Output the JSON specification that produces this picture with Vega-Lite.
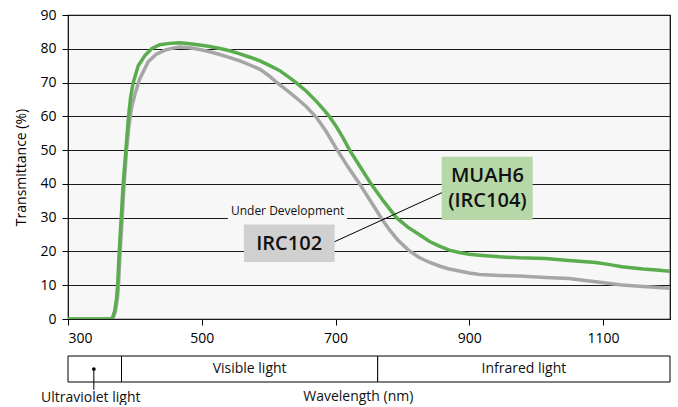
{
  "$schema": "https://vega.github.io/schema/vega-lite/v6.json",
  "background": "white",
  "padding": {"left": 14, "top": 7, "right": 6, "bottom": 0},
  "bounds": "flush",
  "spacing": 37,
  "config": {
    "font": "Open Sans",
    "view": {"stroke": null},
    "axis": {
      "labelFont": "Open Sans", "titleFont": "Open Sans",
      "labelFontSize": 14, "titleFontSize": 14, "titleFontWeight": "normal",
      "labelColor": "black", "titleColor": "black",
      "tickColor": "black", "domainColor": "black", "tickSize": 6, "labelOverlap": false
    }
  },
  "datasets": {
    "curves": [
      {"wl": 300, "t": 0, "s": "IRC102"}, {"wl": 340, "t": 0, "s": "IRC102"}, {"wl": 365, "t": 0, "s": "IRC102"},
      {"wl": 368, "t": 0.6, "s": "IRC102"}, {"wl": 371, "t": 2.5, "s": "IRC102"}, {"wl": 373.8, "t": 6, "s": "IRC102"},
      {"wl": 375.5, "t": 10, "s": "IRC102"}, {"wl": 378, "t": 20, "s": "IRC102"}, {"wl": 381, "t": 30, "s": "IRC102"},
      {"wl": 384, "t": 40, "s": "IRC102"}, {"wl": 387.5, "t": 50, "s": "IRC102"}, {"wl": 391, "t": 57, "s": "IRC102"},
      {"wl": 395, "t": 62.5, "s": "IRC102"}, {"wl": 400, "t": 66.5, "s": "IRC102"}, {"wl": 407, "t": 71, "s": "IRC102"},
      {"wl": 420, "t": 76.2, "s": "IRC102"}, {"wl": 432, "t": 78.4, "s": "IRC102"}, {"wl": 445, "t": 79.6, "s": "IRC102"},
      {"wl": 457, "t": 80.2, "s": "IRC102"}, {"wl": 467, "t": 80.5, "s": "IRC102"}, {"wl": 482, "t": 80.3, "s": "IRC102"},
      {"wl": 497, "t": 79.8, "s": "IRC102"}, {"wl": 512, "t": 79.1, "s": "IRC102"}, {"wl": 527, "t": 78.3, "s": "IRC102"},
      {"wl": 542, "t": 77.4, "s": "IRC102"}, {"wl": 557, "t": 76.4, "s": "IRC102"}, {"wl": 572, "t": 75.2, "s": "IRC102"},
      {"wl": 587, "t": 73.9, "s": "IRC102"}, {"wl": 600, "t": 72.1, "s": "IRC102"}, {"wl": 611, "t": 70.2, "s": "IRC102"},
      {"wl": 626, "t": 67.9, "s": "IRC102"}, {"wl": 641, "t": 65.5, "s": "IRC102"}, {"wl": 656, "t": 62.9, "s": "IRC102"},
      {"wl": 671, "t": 59.8, "s": "IRC102"}, {"wl": 686, "t": 55.5, "s": "IRC102"}, {"wl": 701, "t": 50.5, "s": "IRC102"},
      {"wl": 718, "t": 45.2, "s": "IRC102"}, {"wl": 736, "t": 40, "s": "IRC102"}, {"wl": 752, "t": 35, "s": "IRC102"},
      {"wl": 768, "t": 30, "s": "IRC102"}, {"wl": 781, "t": 26.3, "s": "IRC102"}, {"wl": 793, "t": 23.4, "s": "IRC102"},
      {"wl": 809, "t": 20.4, "s": "IRC102"}, {"wl": 825, "t": 18.2, "s": "IRC102"}, {"wl": 840, "t": 16.8, "s": "IRC102"},
      {"wl": 855, "t": 15.7, "s": "IRC102"}, {"wl": 870, "t": 14.8, "s": "IRC102"}, {"wl": 885, "t": 14.2, "s": "IRC102"},
      {"wl": 900, "t": 13.6, "s": "IRC102"}, {"wl": 915, "t": 13.2, "s": "IRC102"}, {"wl": 945, "t": 12.9, "s": "IRC102"},
      {"wl": 975, "t": 12.7, "s": "IRC102"}, {"wl": 1014, "t": 12.3, "s": "IRC102"}, {"wl": 1049, "t": 12, "s": "IRC102"},
      {"wl": 1070, "t": 11.5, "s": "IRC102"}, {"wl": 1089, "t": 11, "s": "IRC102"}, {"wl": 1110, "t": 10.5, "s": "IRC102"},
      {"wl": 1128, "t": 10.1, "s": "IRC102"}, {"wl": 1160, "t": 9.6, "s": "IRC102"}, {"wl": 1200, "t": 9.1, "s": "IRC102"},

      {"wl": 300, "t": 0, "s": "MUAH6"}, {"wl": 340, "t": 0, "s": "MUAH6"}, {"wl": 364, "t": 0, "s": "MUAH6"},
      {"wl": 367, "t": 0.6, "s": "MUAH6"}, {"wl": 370, "t": 2.5, "s": "MUAH6"}, {"wl": 372.7, "t": 6.3, "s": "MUAH6"},
      {"wl": 374.2, "t": 10, "s": "MUAH6"}, {"wl": 376.6, "t": 20, "s": "MUAH6"}, {"wl": 379.6, "t": 30, "s": "MUAH6"},
      {"wl": 382.5, "t": 40, "s": "MUAH6"}, {"wl": 386.5, "t": 50, "s": "MUAH6"}, {"wl": 390.5, "t": 60, "s": "MUAH6"},
      {"wl": 393.5, "t": 65.5, "s": "MUAH6"}, {"wl": 397.5, "t": 70, "s": "MUAH6"}, {"wl": 405, "t": 75, "s": "MUAH6"},
      {"wl": 415, "t": 78, "s": "MUAH6"}, {"wl": 425, "t": 80, "s": "MUAH6"}, {"wl": 437, "t": 81.2, "s": "MUAH6"},
      {"wl": 452, "t": 81.6, "s": "MUAH6"}, {"wl": 467, "t": 81.8, "s": "MUAH6"}, {"wl": 482, "t": 81.5, "s": "MUAH6"},
      {"wl": 497, "t": 81.1, "s": "MUAH6"}, {"wl": 512, "t": 80.7, "s": "MUAH6"}, {"wl": 527, "t": 80.1, "s": "MUAH6"},
      {"wl": 542, "t": 79.4, "s": "MUAH6"}, {"wl": 557, "t": 78.5, "s": "MUAH6"}, {"wl": 572, "t": 77.5, "s": "MUAH6"},
      {"wl": 587, "t": 76.4, "s": "MUAH6"}, {"wl": 601, "t": 75.1, "s": "MUAH6"}, {"wl": 616, "t": 73.6, "s": "MUAH6"},
      {"wl": 628, "t": 71.9, "s": "MUAH6"}, {"wl": 641, "t": 70, "s": "MUAH6"}, {"wl": 656, "t": 67.5, "s": "MUAH6"},
      {"wl": 671, "t": 64.5, "s": "MUAH6"}, {"wl": 681, "t": 62.3, "s": "MUAH6"}, {"wl": 691, "t": 59.9, "s": "MUAH6"},
      {"wl": 701, "t": 57, "s": "MUAH6"}, {"wl": 711, "t": 53.7, "s": "MUAH6"}, {"wl": 721, "t": 50, "s": "MUAH6"},
      {"wl": 737, "t": 45, "s": "MUAH6"}, {"wl": 753, "t": 40, "s": "MUAH6"}, {"wl": 772, "t": 34.8, "s": "MUAH6"},
      {"wl": 791, "t": 30, "s": "MUAH6"}, {"wl": 808, "t": 27.2, "s": "MUAH6"}, {"wl": 825, "t": 25, "s": "MUAH6"},
      {"wl": 840, "t": 23, "s": "MUAH6"}, {"wl": 855, "t": 21.6, "s": "MUAH6"}, {"wl": 870, "t": 20.4, "s": "MUAH6"},
      {"wl": 885, "t": 19.7, "s": "MUAH6"}, {"wl": 900, "t": 19.2, "s": "MUAH6"}, {"wl": 915, "t": 18.9, "s": "MUAH6"},
      {"wl": 945, "t": 18.4, "s": "MUAH6"}, {"wl": 975, "t": 18.1, "s": "MUAH6"}, {"wl": 1014, "t": 17.9, "s": "MUAH6"},
      {"wl": 1049, "t": 17.3, "s": "MUAH6"}, {"wl": 1089, "t": 16.7, "s": "MUAH6"}, {"wl": 1110, "t": 16.1, "s": "MUAH6"},
      {"wl": 1128, "t": 15.5, "s": "MUAH6"}, {"wl": 1160, "t": 14.8, "s": "MUAH6"}, {"wl": 1180, "t": 14.5, "s": "MUAH6"},
      {"wl": 1200, "t": 14.1, "s": "MUAH6"}
    ],
    "bands": [
      {"region": "Ultraviolet light", "from": 300, "to": 380},
      {"region": "Visible light", "from": 380, "to": 763},
      {"region": "Infrared light", "from": 763, "to": 1200}
    ]
  },
  "vconcat": [
    {
      "width": 602,
      "height": 304,
      "view": {"fill": "#f7f7f7", "stroke": "black", "strokeWidth": 1.2},
      "encoding": {
        "x": {"field": "wl", "type": "quantitative",
              "scale": {"domain": [300, 1200], "nice": false, "zero": false},
              "axis": {"values": [300, 500, 700, 900, 1100], "format": "d", "title": null, "grid": false, "domain": false, "labelPadding": 6}},
        "y": {"field": "t", "type": "quantitative",
              "scale": {"domain": [0, 90], "nice": false},
              "axis": {"values": [0, 10, 20, 30, 40, 50, 60, 70, 80, 90], "tickCount": 10, "title": "Transmittance (%)",
                       "grid": true, "gridColor": "#1a1a1a", "gridWidth": 1, "gridOpacity": 1,
                       "titlePadding": 11, "domain": false, "labelPadding": 6}}
      },
      "layer": [
        {
          "data": {"name": "curves"},
          "transform": [{"filter": "datum.s === 'IRC102'"}],
          "mark": {"type": "line", "color": "#a6a6a6", "strokeWidth": 3.5, "clip": true}
        },
        {
          "data": {"values": [{"x1": 539, "x2": 717, "y1": 29.2, "y2": 34.5}]},
          "mark": {"type": "rect", "fill": "#f7f7f7"},
          "encoding": {
            "x": {"field": "x1", "type": "quantitative"}, "x2": {"field": "x2"},
            "y": {"field": "y1", "type": "quantitative"}, "y2": {"field": "y2"}
          }
        },
        {
          "data": {"name": "curves"},
          "transform": [{"filter": "datum.s === 'MUAH6'"}],
          "mark": {"type": "line", "color": "#5aac4f", "strokeWidth": 3.5, "clip": true}
        },
        {
          "data": {"values": [{"x1": 858.6, "x2": 994.7, "y1": 29.3, "y2": 48}]},
          "mark": {"type": "rect", "fill": "#b6d7a8"},
          "encoding": {
            "x": {"field": "x1", "type": "quantitative"}, "x2": {"field": "x2"},
            "y": {"field": "y1", "type": "quantitative"}, "y2": {"field": "y2"}
          }
        },
        {
          "data": {"values": [{"x1": 563, "x2": 698.7, "y1": 16.9, "y2": 28}]},
          "mark": {"type": "rect", "fill": "#d0d0d0"},
          "encoding": {
            "x": {"field": "x1", "type": "quantitative"}, "x2": {"field": "x2"},
            "y": {"field": "y1", "type": "quantitative"}, "y2": {"field": "y2"}
          }
        },
        {
          "data": {"values": [{"x1": 698.7, "x2": 859, "y1": 22.9, "y2": 37.4}]},
          "mark": {"type": "rule", "color": "black", "strokeWidth": 1},
          "encoding": {
            "x": {"field": "x1", "type": "quantitative"}, "x2": {"field": "x2"},
            "y": {"field": "y1", "type": "quantitative"}, "y2": {"field": "y2"}
          }
        },
        {
          "data": {"values": [{"label": "MUAH6", "lx": 927, "ly": 42.3}, {"label": "(IRC104)", "lx": 927, "ly": 34.9}, {"label": "IRC102", "lx": 630.6, "ly": 22.2}]},
          "mark": {"type": "text", "fontSize": 20, "fontWeight": 600, "color": "#111", "align": "center", "baseline": "middle"},
          "encoding": {
            "x": {"field": "lx", "type": "quantitative"},
            "y": {"field": "ly", "type": "quantitative"},
            "text": {"field": "label"}
          }
        },
        {
          "data": {"values": [{"label": "Under Development", "lx": 628.4, "ly": 32}]},
          "mark": {"type": "text", "fontSize": 12, "color": "#111", "align": "center", "baseline": "middle"},
          "encoding": {
            "x": {"field": "lx", "type": "quantitative"},
            "y": {"field": "ly", "type": "quantitative"},
            "text": {"field": "label"}
          }
        }
      ]
    },
    {
      "width": 602,
      "height": 26,
      "layer": [
        {
          "data": {"name": "bands"},
          "mark": {"type": "rect", "fill": "white", "stroke": "black", "strokeWidth": 1},
          "encoding": {
            "x": {"field": "from", "type": "quantitative", "scale": {"domain": [300, 1200], "nice": false, "zero": false}, "axis": null},
            "x2": {"field": "to"},
            "y": {"datum": 0, "type": "quantitative", "scale": {"domain": [0, 1], "nice": false}, "axis": null},
            "y2": {"datum": 1}
          }
        },
        {
          "data": {"name": "bands"},
          "transform": [{"filter": "datum.region !== 'Ultraviolet light'"}, {"calculate": "(datum.from + datum.to) / 2", "as": "mid"}],
          "mark": {"type": "text", "fontSize": 14, "color": "#111", "align": "center", "baseline": "middle"},
          "encoding": {
            "x": {"field": "mid", "type": "quantitative"},
            "y": {"datum": 0.5, "type": "quantitative"},
            "text": {"field": "region"}
          }
        },
        {
          "data": {"values": [{"px": 338.6, "top": 0.5, "bottom": -0.3}]},
          "mark": {"type": "rule", "color": "black", "strokeWidth": 1},
          "encoding": {
            "x": {"field": "px", "type": "quantitative"},
            "y": {"field": "top", "type": "quantitative"}, "y2": {"field": "bottom"}
          }
        },
        {
          "data": {"values": [{"px": 338.6, "py": 0.5}]},
          "mark": {"type": "point", "filled": true, "color": "black", "size": 14, "opacity": 1},
          "encoding": {
            "x": {"field": "px", "type": "quantitative"},
            "y": {"field": "py", "type": "quantitative"}
          }
        },
        {
          "data": {"values": [{"label": "Ultraviolet light", "lx": 334, "ly": -0.6}, {"label": "Wavelength (nm)", "lx": 734, "ly": -0.58}]},
          "mark": {"type": "text", "fontSize": 14, "color": "#111", "align": "center", "baseline": "middle"},
          "encoding": {
            "x": {"field": "lx", "type": "quantitative"},
            "y": {"field": "ly", "type": "quantitative"},
            "text": {"field": "label"}
          }
        }
      ]
    }
  ]
}
